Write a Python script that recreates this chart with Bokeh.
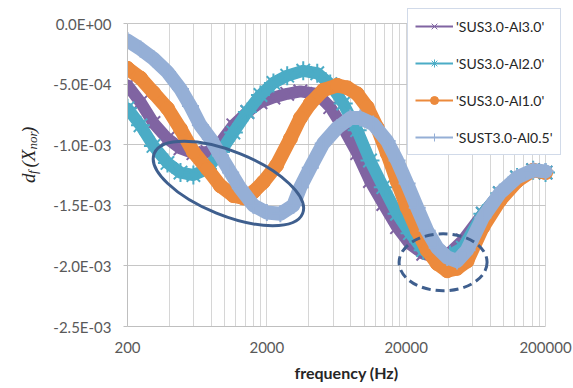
import numpy as np
from bokeh.plotting import figure
from bokeh.layouts import row
from bokeh.models import FixedTicker, Legend, LegendItem, Label, Range1d
from bokeh.embed import file_html
from bokeh.resources import INLINE

# ---- data: normalised frequency deviation d_f(X_nor) vs frequency (Hz) ----
freq_al30 = [200, 248, 307, 387, 480, 594, 749, 930, 1150, 1450, 1800, 2230, 2800, 3480,
             4600, 5700, 7070, 8900, 11000, 13700, 17200, 21300, 26500, 33400, 41300, 51000,
             71000, 94000, 125000, 163000, 200000]
dfx_al30 = [-0.51e-3, -0.65e-3, -0.82e-3, -0.95e-3, -1.03e-3, -1.07e-3, -1.06e-3, -0.98e-3,
            -0.84e-3, -0.73e-3, -0.65e-3, -0.61e-3, -0.58e-3, -0.56e-3, -0.58e-3, -0.69e-3,
            -0.86e-3, -1.07e-3, -1.30e-3, -1.49e-3, -1.68e-3, -1.82e-3, -1.90e-3, -1.93e-3,
            -1.89e-3, -1.79e-3, -1.57e-3, -1.40e-3, -1.27e-3, -1.21e-3, -1.23e-3]

freq_al20 = [200, 248, 307, 387, 480, 594, 749, 930, 1150, 1450, 1800, 2230, 2800, 3650,
             4600, 5700, 7070, 8900, 11000, 13700, 17200, 21300, 26500, 33400, 41300, 51000,
             71000, 94000, 125000, 163000, 200000]
dfx_al20 = [-0.70e-3, -0.84e-3, -1.01e-3, -1.15e-3, -1.23e-3, -1.25e-3, -1.20e-3, -1.06e-3,
            -0.90e-3, -0.73e-3, -0.59e-3, -0.49e-3, -0.43e-3, -0.39e-3, -0.41e-3, -0.50e-3,
            -0.66e-3, -0.88e-3, -1.13e-3, -1.35e-3, -1.57e-3, -1.73e-3, -1.87e-3, -1.93e-3,
            -1.91e-3, -1.85e-3, -1.57e-3, -1.40e-3, -1.27e-3, -1.21e-3, -1.23e-3]

freq_al10 = [200, 248, 307, 387, 480, 594, 749, 930, 1150, 1360, 1600, 1880, 2350, 2950,
             3480, 4100, 5080, 6400, 7550, 8900, 10500, 12400, 14600, 17200, 20300, 24000,
             28300, 33400, 39400, 46400, 54700, 71000, 94000, 125000, 163000, 200000]
dfx_al10 = [-0.37e-3, -0.45e-3, -0.57e-3, -0.70e-3, -0.87e-3, -1.06e-3, -1.20e-3, -1.34e-3,
            -1.42e-3, -1.44e-3, -1.39e-3, -1.31e-3, -1.17e-3, -0.95e-3, -0.78e-3, -0.66e-3,
            -0.55e-3, -0.51e-3, -0.53e-3, -0.58e-3, -0.69e-3, -0.86e-3, -1.07e-3, -1.30e-3,
            -1.52e-3, -1.71e-3, -1.87e-3, -1.98e-3, -2.04e-3, -2.02e-3, -1.96e-3, -1.68e-3,
            -1.46e-3, -1.30e-3, -1.21e-3, -1.23e-3]

freq_al05 = [200, 248, 307, 387, 480, 566, 667, 787, 930, 1100, 1290, 1600, 2000, 2500,
             3100, 3480, 4100, 5080, 6400, 7940, 9360, 11600, 14600, 17200, 20300, 24000,
             28300, 33400, 39400, 46400, 54700, 71000, 94000, 125000, 163000, 200000]
dfx_al05 = [-0.14e-3, -0.21e-3, -0.29e-3, -0.40e-3, -0.54e-3, -0.68e-3, -0.84e-3, -0.95e-3,
            -1.09e-3, -1.23e-3, -1.36e-3, -1.50e-3, -1.56e-3, -1.57e-3, -1.50e-3, -1.35e-3,
            -1.19e-3, -0.99e-3, -0.86e-3, -0.78e-3, -0.78e-3, -0.83e-3, -0.97e-3, -1.13e-3,
            -1.32e-3, -1.52e-3, -1.71e-3, -1.85e-3, -1.93e-3, -1.96e-3, -1.87e-3, -1.60e-3,
            -1.40e-3, -1.27e-3, -1.21e-3, -1.22e-3]

series_names = ["'SUS3.0-Al3.0'", "'SUS3.0-Al2.0'", "'SUS3.0-Al1.0'", "'SUST3.0-Al0.5'"]
series_colors = ["#8064A2", "#4BACC6", "#EC8A3C", "#95AFD6"]
series_markers = ["x", "asterisk", "circle", "cross"]

x_major = [200, 2000, 20000, 200000]
x_tick_labels = ["200", "2000", "20000", "200000"]
y_ticks = [-2.5e-3, -2.0e-3, -1.5e-3, -1.0e-3, -0.5e-3, 0.0]
y_tick_labels = ["-2.5E-03", "-2.0E-03", "-1.5E-03", "-1.0E-03", "-5.0E-04", "0.0E+00"]

# highlighted regions (centre frequency, centre value)
loop_left = (1060, -1.32e-3)
loop_right = (36800, -1.97e-3)

INK = "#262626"
FONT = "Lato"

# ---- main chart; the frame runs a little past the axes to hold the legend ----
p = figure(width=528, height=388, x_axis_type="log",
           x_range=Range1d(200, 278200), y_range=Range1d(-2.5e-3, 1.24e-4),
           output_backend="svg", toolbar_location=None,
           min_border_left=82, min_border_right=8, min_border_top=8, min_border_bottom=62)
p.outline_line_color = None
p.background_fill_color = "white"
p.border_fill_color = "white"

x_minor = [b * k for b in (200, 2000, 20000) for k in range(2, 10)]
p.xaxis.ticker = FixedTicker(ticks=x_major, minor_ticks=x_minor)
p.yaxis.ticker = FixedTicker(ticks=y_ticks, minor_ticks=[])
p.xaxis.major_label_overrides = dict(zip(x_major, x_tick_labels))
p.yaxis.major_label_overrides = dict(zip(y_ticks, y_tick_labels))
p.xaxis.bounds = (200, 200000)
p.yaxis.bounds = (-2.5e-3, 0.0)

p.xgrid.grid_line_color = "#D6D6D6"
p.xgrid.minor_grid_line_color = "#D6D6D6"
p.xgrid.cross_bounds = (-2.5e-3, 0.0)
p.ygrid.grid_line_color = "#C6C6C6"
p.ygrid.cross_bounds = (200, 200000)

for ax in (p.xaxis, p.yaxis):
    ax.axis_line_color = "#BFBFBF"
    ax.major_tick_line_color = "#BFBFBF"
    ax.minor_tick_line_color = None
    ax.major_tick_in = 0
    ax.major_label_text_font = FONT
    ax.major_label_text_font_size = "15px"
    ax.major_label_text_color = "#595959"
p.xaxis.major_tick_out = 0
p.xaxis.major_label_standoff = 11
p.yaxis.major_tick_out = 4
p.yaxis.major_label_standoff = 12

p.xaxis.axis_label = "frequency (Hz)"
p.xaxis.axis_label_text_font = FONT
p.xaxis.axis_label_text_font_style = "bold"
p.xaxis.axis_label_text_font_size = "16px"
p.xaxis.axis_label_text_color = INK
p.xaxis.axis_label_standoff = 7

# ---- curves: thick marker bands ----
all_freq = [freq_al30, freq_al20, freq_al10, freq_al05]
all_dfx = [dfx_al30, dfx_al20, dfx_al10, dfx_al05]
for f, v, c, m in zip(all_freq, all_dfx, series_colors, series_markers):
    if m == "circle":
        p.line(f, v, line_color=c, line_width=14, line_join="round", line_cap="round")
        p.scatter(f, v, marker=m, size=14, fill_color=c, line_color=c)
    elif m == "cross":
        p.line(f, v, line_color=c, line_width=14, line_join="round", line_cap="round")
        p.scatter(f, v, marker=m, size=17, line_color=c, line_width=2)
    else:
        p.line(f, v, line_color=c, line_width=12, line_join="round", line_cap="round")
        p.scatter(f, v, marker=m, size=19, line_color=c, line_width=2)

# ---- highlight loops ----
p.ellipse(x=[loop_left[0]], y=[loop_left[1]], width=160, height=64, angle=-0.384,
          width_units="screen", height_units="screen",
          fill_color=None, line_color="#3F5F8E", line_width=3)
p.ellipse(x=[loop_right[0]], y=[loop_right[1]], width=88, height=57,
          width_units="screen", height_units="screen",
          fill_color=None, line_color="#3F5F8E", line_width=3, line_dash="9 5")

# ---- legend (thin line + marker sample per series) ----
items = []
for name, c, m in zip(series_names, series_colors, series_markers):
    r_line = p.line([np.nan], [np.nan], line_color=c, line_width=2)
    if m == "circle":
        r_mark = p.scatter([np.nan], [np.nan], marker=m, size=8, fill_color=c, line_color=c)
    else:
        r_mark = p.scatter([np.nan], [np.nan], marker=m, size=8, line_color=c, line_width=1)
    items.append(LegendItem(label=name, renderers=[r_line, r_mark]))

legend = Legend(items=items, location=(280, 171), border_line_color="#A3B5D3",
                border_line_width=1, background_fill_color="white", background_fill_alpha=1,
                padding=7, spacing=17, label_height=20, glyph_height=20, glyph_width=38,
                label_standoff=3, margin=0, label_text_font=FONT,
                label_text_font_size="14px", label_text_color=INK)
p.add_layout(legend)

# ---- y axis title d_f(X_nor), set in its own narrow strip ----
t = figure(width=45, height=388, x_range=Range1d(0, 45), y_range=Range1d(0, 388),
           output_backend="svg", toolbar_location=None, x_axis_type=None, y_axis_type=None,
           min_border=0)
t.outline_line_color = None
t.grid.visible = False
title_parts = [("d", 175, 19, 28), ("f", 186, 13, 32), ("(X", 194, 19, 28),
               ("nor", 216, 13, 32), (")", 236, 19, 28)]
for txt, ypos, size, xpos in title_parts:
    t.add_layout(Label(x=xpos, y=ypos, text=txt, angle=np.pi / 2,
                       text_font="Liberation Serif", text_font_style="italic",
                       text_font_size=f"{size}px", text_color=INK,
                       text_align="left", text_baseline="alphabetic"))

layout = row(t, p, spacing=0)
open("out.html", "w").write(file_html(layout, INLINE))
